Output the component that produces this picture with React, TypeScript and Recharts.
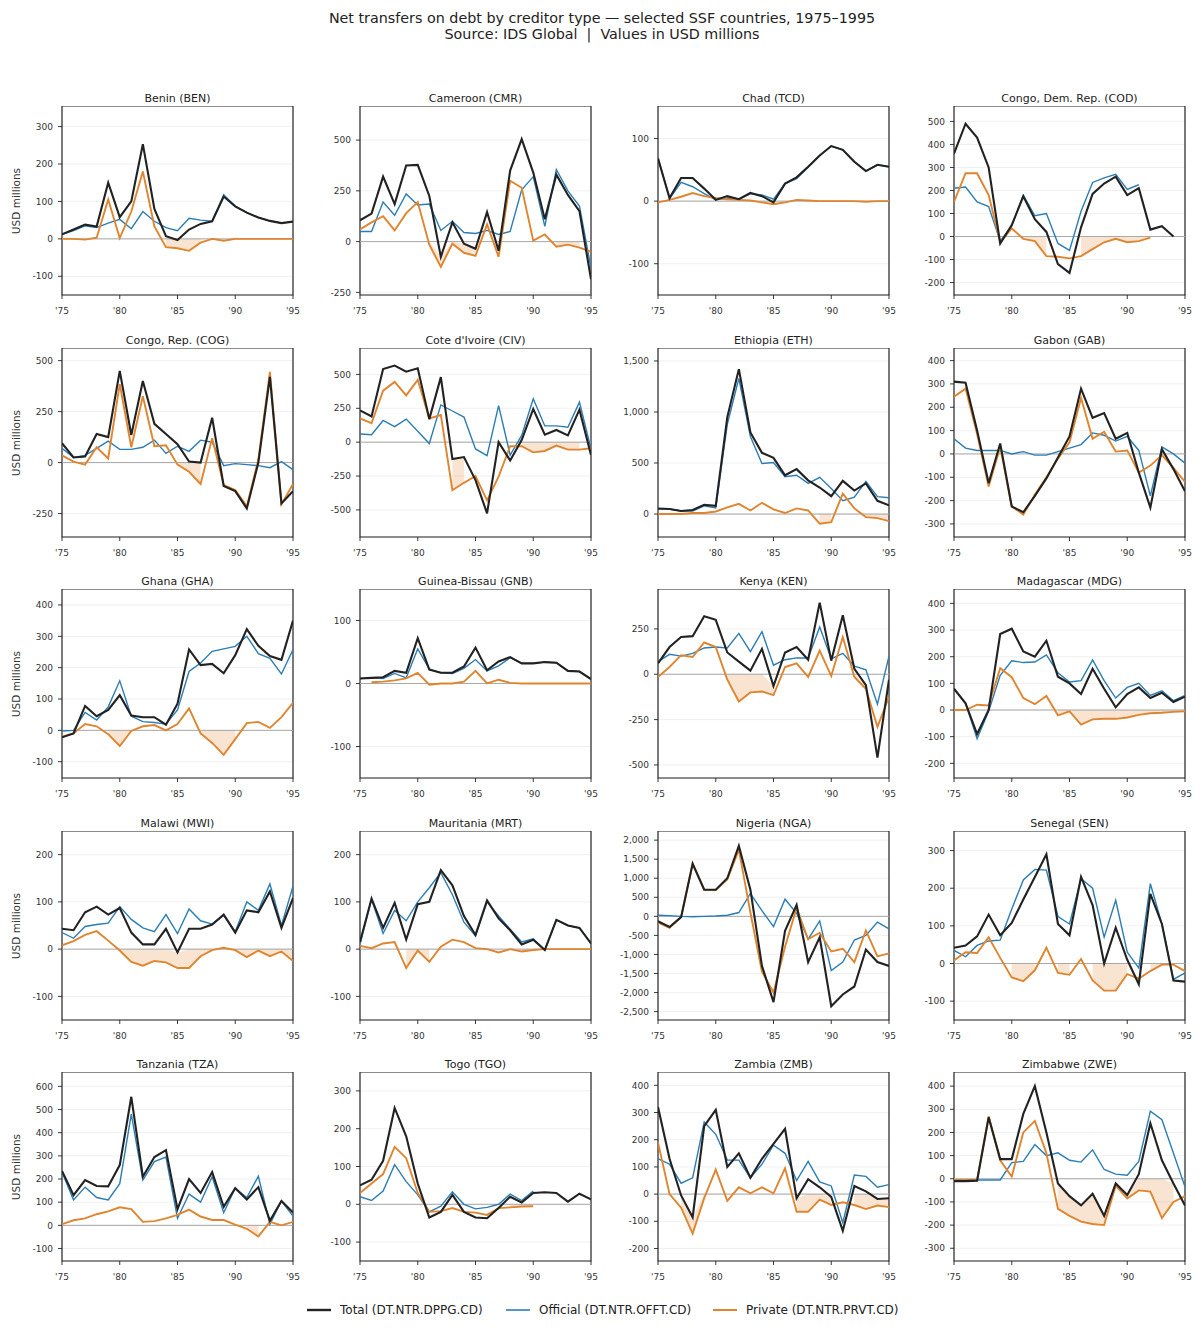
import React from 'react';
import { ComposedChart, Line, Area, XAxis, YAxis, CartesianGrid, ReferenceLine, ReferenceArea } from 'recharts';

const years = [1975, 1976, 1977, 1978, 1979, 1980, 1981, 1982, 1983, 1984, 1985, 1986, 1987, 1988, 1989, 1990, 1991, 1992, 1993, 1994, 1995];
const xTicks = [1975, 1980, 1985, 1990, 1995];

const BEN_total = [12, 25, 38, 33, 150, 58, 100, 253, 80, 7, -3, 25, 40, 47, 113, 87, 70, 57, 48, 42, 46];
const BEN_official = [12, 22, 35, 30, 42, 52, 27, 73, 47, 30, 22, 55, 50, 47, 118, 87, 70, 57, 48, 42, 46];
const BEN_private = [0, 0, -2, 3, 105, 2, 73, 180, 33, -22, -25, -32, -10, 0, -5, 0, 0, 0, 0, 0, 0];

const CMR_total = [105, 138, 320, 185, 375, 378, 225, -75, 95, -10, -35, 145, -45, 350, 505, 340, 110, 330, 230, 150, -185];
const CMR_official = [50, 50, 195, 130, 235, 180, 185, 55, 100, 45, 40, 55, 35, 50, 255, 320, 75, 355, 250, 175, -130];
const CMR_private = [60, 95, 125, 55, 140, 195, -15, -125, -10, -55, -70, 85, -75, 300, 265, 5, 35, -25, -15, -30, -50];

const TCD_total = [68, 5, 37, 37, 20, 2, 8, 3, 13, 8, -2, 28, 38, 55, 73, 88, 82, 63, 48, 58, 55];
const TCD_official = [70, 4, 30, 23, 12, 2, 5, 3, 12, 10, 3, 28, 36, 54, 73, 88, 82, 63, 48, 58, 55];
const TCD_private = [-2, 2, 7, 13, 8, 5, 3, 2, 1, -2, -5, -2, 2, 1, 0, 0, 0, 0, -1, 0, 0];

const COD_total = [360, 490, 430, 300, -30, 50, 175, 75, 20, -120, -158, 40, 185, 230, 260, 180, 210, 30, 45, 0, null];
const COD_official = [210, 215, 150, 130, -20, 45, 180, 90, 100, -30, -60, 110, 235, 255, 270, 205, 225, null, null, null, null];
const COD_private = [150, 275, 275, 180, -25, 35, -10, -20, -85, -88, -95, -85, -55, -25, -10, -25, -20, -5, null, null, null];

const COG_total = [95, 25, 30, 140, 125, 450, 135, 400, 190, 140, 90, 5, 0, 220, -115, -140, -225, 0, 420, -200, -140];
const COG_official = [70, 25, 35, 70, 105, 65, 65, 75, 110, 45, 80, 55, 110, 100, -15, -5, -10, -15, -25, 5, -35];
const COG_private = [35, 5, -10, 75, 20, 385, 75, 325, 80, 85, -10, -45, -105, 120, -110, -135, -215, 15, 445, -205, -105];

const CIV_total = [235, 190, 540, 565, 520, 545, 170, 480, -125, -110, -280, -525, 0, -135, 15, 245, 55, 90, 50, 240, -95];
const CIV_official = [60, 55, 160, 115, 170, 80, -10, 275, 230, 185, -50, -100, 270, -95, 50, 320, 120, 120, 110, 295, -50];
const CIV_private = [175, 140, 380, 445, 345, 460, 175, 200, -355, -300, -250, -430, -255, -30, -30, -75, -65, -25, -55, -55, -45];

const ETH_total = [55, 50, 30, 40, 90, 80, 950, 1420, 800, 600, 550, 380, 440, 330, 260, 175, 325, 230, 300, 130, 85];
const ETH_official = [50, 50, 30, 30, 80, 60, 880, 1330, 760, 495, 505, 365, 380, 300, 360, 250, 130, 165, 320, 170, 160];
const ETH_private = [0, 0, 0, 10, 10, 25, 65, 100, 35, 110, 45, 10, 55, 35, -95, -80, 200, 55, -30, -40, -70];

const GAB_total = [310, 305, 100, -125, 45, -225, -250, -180, -105, -15, 75, 280, 155, 175, 65, 90, -80, -230, 20, -65, -160];
const GAB_official = [65, 25, 15, 15, 15, 0, 10, -5, -5, 10, 25, 40, 90, 80, 55, 75, 15, -180, 30, 0, -40];
const GAB_private = [245, 280, 85, -140, 30, -225, -260, -175, -100, -20, 50, 240, 65, 95, 10, 15, -80, -50, -5, -60, -120];

const GHA_total = [-22, -10, 78, 45, 65, 112, 47, 42, 42, 18, 85, 258, 208, 212, 182, 240, 323, 270, 237, 225, 350];
const GHA_official = [-2, 0, 57, 33, 75, 158, 45, 28, 25, 20, 65, 188, 215, 252, 260, 268, 300, 245, 230, 180, 258];
const GHA_private = [-20, -10, 20, 13, -12, -50, -2, 13, 17, 0, 20, 70, -10, -40, -78, -28, 23, 27, 8, 42, 88];

const GNB_total = [8, 9, 10, 20, 17, 72, 22, 17, 17, 27, 57, 21, 35, 42, 32, 32, 34, 33, 20, 19, 7];
const GNB_official = [8, 9, 8, 16, 9, 55, 23, 17, 16, 24, 38, 20, 28, 41, 32, 32, 34, 33, 20, 19, 7];
const GNB_private = [null, 2, 3, 5, 8, 17, -2, 0, 0, 3, 20, 0, 6, 1, 0, 0, 0, 0, 0, 0, 0];

const KEN_total = [60, 150, 205, 210, 320, 300, 120, 70, 20, 140, -65, 120, 150, 80, 395, 75, 325, 30, -60, -460, -30];
const KEN_official = [70, 110, 100, 115, 145, 150, 145, 225, 125, 235, 50, 80, 90, 90, 260, 85, 115, 45, 25, -165, 100];
const KEN_private = [-15, 40, 105, 95, 175, 150, -30, -150, -100, -95, -115, 40, 60, -15, 130, -10, 205, -15, -80, -290, -125];

const MDG_total = [80, 25, -90, 0, 285, 305, 220, 200, 260, 125, 100, 60, 155, 80, 10, 60, 85, 45, 65, 30, 50];
const MDG_official = [80, 25, -108, -5, 130, 185, 178, 180, 207, 140, 105, 110, 188, 110, 45, 85, 100, 55, 72, 35, 55];
const MDG_private = [0, 0, 20, 17, 157, 123, 45, 22, 53, -20, -5, -55, -35, -33, -33, -28, -18, -12, -10, -7, -5];

const MWI_total = [43, 40, 78, 90, 73, 87, 35, 10, 10, 43, -7, 43, 43, 52, 73, 35, 82, 78, 122, 45, 108];
const MWI_official = [35, 23, 48, 52, 55, 90, 63, 45, 37, 73, 33, 85, 60, 53, 72, 37, 100, 82, 138, 50, 133];
const MWI_private = [8, 17, 30, 38, 18, -3, -27, -35, -25, -28, -40, -40, -15, -2, 3, -2, -17, -3, -15, -5, -25];

const MRT_total = [15, 107, 45, 98, 20, 95, 100, 167, 135, 70, 30, 103, 65, 40, 10, 20, -2, 62, 50, 45, 12];
const MRT_official = [10, 105, 33, 82, 60, 100, 130, 162, 115, 57, 28, 100, 70, 42, 15, 22, -2, 62, 50, 45, 12];
const MRT_private = [7, 2, 12, 15, -40, -3, -27, 5, 20, 15, 2, 0, -7, 0, -5, -2, 0, 0, 0, 0, 0];

const NGA_total = [-130, -280, -20, 1380, 700, 700, 1000, 1850, 700, -1300, -2250, -380, 300, -1200, -550, -2360, -2050, -1840, -870, -1200, -1300];
const NGA_official = [30, 20, 0, -10, 0, 10, 30, 100, 600, 150, -270, 450, 80, -600, -120, -1420, -1200, -620, -500, -150, -330];
const NGA_private = [-160, -300, -20, 1390, 700, 690, 970, 1750, 100, -1450, -2000, -800, 220, -600, -430, -920, -850, -1200, -370, -1050, -970];

const SEN_total = [42, 48, 72, 130, 75, 108, 170, 230, 290, 105, 75, 230, 155, 0, 95, 10, -55, 185, 105, -45, -48];
const SEN_official = [35, 18, 48, 60, 62, 145, 222, 250, 248, 125, 105, 225, 200, 70, 168, 30, -12, 212, 105, -42, -25];
const SEN_private = [8, 30, 28, 70, 15, -37, -47, -18, 42, -25, -30, 12, -45, -72, -72, -28, -40, -20, -3, -3, -20];

const TZA_total = [235, 130, 195, 170, 168, 260, 555, 210, 295, 325, 70, 200, 140, 230, 80, 160, 112, 165, 20, 105, 55];
const TZA_official = [230, 110, 165, 120, 110, 180, 480, 195, 275, 295, 30, 135, 100, 210, 55, 160, 120, 212, 5, 105, 40];
const TZA_private = [5, 22, 30, 48, 60, 78, 70, 15, 18, 30, 45, 68, 38, 23, 23, 3, -15, -48, 15, 0, 15];

const TGO_total = [50, 65, 115, 255, 180, 55, -35, -20, 25, -20, -35, -37, -10, 20, 5, 30, 32, 30, 7, 28, 13];
const TGO_official = [20, 10, 35, 105, 60, 25, -20, -5, 33, 0, -12, -8, 0, 27, 10, 35, null, null, null, null, null];
const TGO_private = [30, 55, 80, 152, 122, 30, -20, -18, -10, -20, -22, -28, -10, -8, -6, -5, null, null, null, null, null];

const ZMB_total = [320, 130, -5, -85, 250, 310, 100, 150, 60, 130, 185, 240, -15, 55, 25, -10, -135, 30, 10, -18, -15];
const ZMB_official = [130, 110, 40, 60, 265, 220, 125, 125, 60, 110, 180, 150, 50, 120, 45, 30, -105, 70, 65, 25, 35];
const ZMB_private = [190, 0, -50, -145, -15, 90, -25, 25, 3, 25, 3, 95, -65, -65, -20, -40, -30, -40, -55, -42, -48];

const ZWE_total = [-10, -10, -8, 265, 85, 85, 280, 400, 200, -20, -75, -115, -65, -160, -20, -70, 20, 240, 80, -20, -115];
const ZWE_official = [null, null, -5, -5, -5, 70, 75, 148, 100, 112, 80, 72, 125, 40, 20, 15, 75, 292, 255, 110, -35];
const ZWE_private = [-5, -5, -5, 270, 80, 10, 200, 250, 110, -130, -160, -185, -195, -200, -30, -85, -50, -55, -170, -100, -75];

const countryNames = [
  'Benin (BEN)', 'Cameroon (CMR)', 'Chad (TCD)', 'Congo, Dem. Rep. (COD)',
  'Congo, Rep. (COG)', "Cote d'Ivoire (CIV)", 'Ethiopia (ETH)', 'Gabon (GAB)',
  'Ghana (GHA)', 'Guinea-Bissau (GNB)', 'Kenya (KEN)', 'Madagascar (MDG)',
  'Malawi (MWI)', 'Mauritania (MRT)', 'Nigeria (NGA)', 'Senegal (SEN)',
  'Tanzania (TZA)', 'Togo (TGO)', 'Zambia (ZMB)', 'Zimbabwe (ZWE)',
];
const totals = [BEN_total, CMR_total, TCD_total, COD_total, COG_total, CIV_total, ETH_total, GAB_total, GHA_total, GNB_total, KEN_total, MDG_total, MWI_total, MRT_total, NGA_total, SEN_total, TZA_total, TGO_total, ZMB_total, ZWE_total];
const officials = [BEN_official, CMR_official, TCD_official, COD_official, COG_official, CIV_official, ETH_official, GAB_official, GHA_official, GNB_official, KEN_official, MDG_official, MWI_official, MRT_official, NGA_official, SEN_official, TZA_official, TGO_official, ZMB_official, ZWE_official];
const privates = [BEN_private, CMR_private, TCD_private, COD_private, COG_private, CIV_private, ETH_private, GAB_private, GHA_private, GNB_private, KEN_private, MDG_private, MWI_private, MRT_private, NGA_private, SEN_private, TZA_private, TGO_private, ZMB_private, ZWE_private];

const yDomains = [
  [-150, 355], [-263, 668], [-150, 152], [-254, 567],
  [-365, 562], [-700, 695], [-225, 1627], [-356, 454],
  [-152, 451], [-150, 150], [-572, 470], [-255, 454],
  [-150, 250], [-150, 250], [-2720, 2240], [-150, 352],
  [-154, 662], [-150, 350], [-246, 449], [-355, 461],
];
const yTicks = [
  [-100, 0, 100, 200, 300], [-250, 0, 250, 500], [-100, 0, 100], [-200, -100, 0, 100, 200, 300, 400, 500],
  [-250, 0, 250, 500], [-500, -250, 0, 250, 500], [0, 500, 1000, 1500], [-300, -200, -100, 0, 100, 200, 300, 400],
  [-100, 0, 100, 200, 300, 400], [-100, 0, 100], [-500, -250, 0, 250], [-200, -100, 0, 100, 200, 300, 400],
  [-100, 0, 100, 200], [-100, 0, 100, 200], [-2500, -2000, -1500, -1000, -500, 0, 500, 1000, 1500, 2000], [-100, 0, 100, 200, 300],
  [-100, 0, 100, 200, 300, 400, 500, 600], [-100, 0, 100, 200, 300], [-200, -100, 0, 100, 200, 300, 400], [-300, -200, -100, 0, 100, 200, 300, 400],
];

const C_TOTAL = '#222222';
const C_OFF = '#2b7db5';
const C_PRV = '#e0852f';
const FONT = '"DejaVu Sans", Verdana, sans-serif';

const colLeft = [62, 360, 658, 954];
const rowTop = [106, 348, 589, 831, 1072];
const PLOT_W = 231;
const PLOT_H = 189;
const YAXIS_W = 56;
const XAXIS_H = 28;
const RIGHT_PAD = 14;

function buildRows(i: number) {
  return years.map((y, k) => {
    const t = totals[i][k];
    const o = officials[i][k];
    const p = privates[i][k];
    const upper = t == null ? 0 : Math.min(t, 0);
    const band = p != null && p < upper ? [p, upper] : null;
    return { year: y, total: t, official: o, private: p, band };
  });
}

const fmtNum = (v: number) => v.toLocaleString('en-US');
const fmtYear = (v: number) => "'" + String(v).slice(2);

function Panel({ i }: { i: number }) {
  const col = i % 4;
  const row = Math.floor(i / 4);
  const left = colLeft[col];
  const top = rowTop[row];
  const data = buildRows(i);
  const dom = yDomains[i];
  return (
    <>
      <div
        style={{
          position: 'absolute', left, top: top - 14, width: PLOT_W, textAlign: 'center',
          fontSize: 11, lineHeight: '14px', color: '#222', whiteSpace: 'nowrap',
        }}
      >
        {countryNames[i]}
      </div>
      {col === 0 && (
        <div
          style={{
            position: 'absolute', left: 16 - 60, top: top + PLOT_H / 2 - 7, width: 120, height: 14,
            textAlign: 'center', fontSize: 10.5, lineHeight: '14px', color: '#333',
            transform: 'rotate(-90deg)', whiteSpace: 'nowrap',
          }}
        >
          USD millions
        </div>
      )}
      <div style={{ position: 'absolute', left: left - YAXIS_W, top }}>
        <ComposedChart
          width={YAXIS_W + PLOT_W + RIGHT_PAD}
          height={PLOT_H + XAXIS_H}
          data={data}
          margin={{ top: 0, right: RIGHT_PAD, bottom: 0, left: 0 }}
        >
          <CartesianGrid vertical={false} stroke="#ececec" strokeWidth={0.8} />
          <XAxis
            dataKey="year" type="number" domain={[1975, 1995]} ticks={xTicks}
            tickFormatter={fmtYear} height={XAXIS_H} axisLine={false}
            tickSize={4} tickMargin={9} tickLine={{ stroke: '#222', strokeWidth: 0.9 }}
            tick={{ fontSize: 9, fill: '#333' }} allowDataOverflow interval={0}
          />
          <YAxis
            type="number" domain={dom} ticks={yTicks[i]} tickFormatter={fmtNum}
            width={YAXIS_W} axisLine={false} tickSize={4} tickMargin={5}
            tickLine={{ stroke: '#222', strokeWidth: 0.9 }}
            tick={{ fontSize: 9, fill: '#333' }} allowDataOverflow interval={0}
          />
          <ReferenceLine y={0} stroke="#a8a8a8" strokeWidth={1} />
          <Area
            dataKey="band" stroke="none" fill={C_PRV} fillOpacity={0.22}
            isAnimationActive={false} connectNulls={false} dot={false} activeDot={false}
          />
          <Line dataKey="official" stroke={C_OFF} strokeWidth={1.4} dot={false} activeDot={false} isAnimationActive={false} />
          <Line dataKey="private" stroke={C_PRV} strokeWidth={1.9} dot={false} activeDot={false} isAnimationActive={false} />
          <Line dataKey="total" stroke={C_TOTAL} strokeWidth={2.1} dot={false} activeDot={false} isAnimationActive={false} />
          <ReferenceArea
            x1={1975} x2={1995} y1={dom[0]} y2={dom[1]} fill="none" fillOpacity={0}
            stroke="#222" strokeWidth={1.2} ifOverflow="visible"
          />
        </ComposedChart>
      </div>
    </>
  );
}

const legendItems = [
  { label: 'Total (DT.NTR.DPPG.CD)', color: C_TOTAL, w: 2.4, x: 307 },
  { label: 'Official (DT.NTR.OFFT.CD)', color: C_OFF, w: 1.6, x: 506 },
  { label: 'Private (DT.NTR.PRVT.CD)', color: C_PRV, w: 2.0, x: 713 },
];

export default function App() {
  return (
    <div
      style={{
        position: 'absolute', left: 0, top: 0, width: 1204, height: 1334,
        background: '#fff', fontFamily: FONT, overflow: 'hidden',
      }}
    >
      <div
        style={{
          position: 'absolute', left: 0, top: 10, width: 1204, textAlign: 'center',
          fontSize: 14.3, lineHeight: '16px', color: '#222',
        }}
      >
        <div>Net transfers on debt by creditor type — selected SSF countries, 1975–1995</div>
        <div style={{ whiteSpace: 'pre' }}>Source: IDS Global  |  Values in USD millions</div>
      </div>
      {countryNames.map((_, i) => (
        <Panel key={i} i={i} />
      ))}
      {legendItems.map((it) => (
        <div
          key={it.label}
          style={{ position: 'absolute', left: it.x, top: 1302, height: 16, display: 'flex', alignItems: 'center', whiteSpace: 'nowrap' }}
        >
          <svg width={24} height={16} style={{ display: 'block' }}>
            <line x1={0} y1={8} x2={24} y2={8} stroke={it.color} strokeWidth={it.w} />
          </svg>
          <span style={{ marginLeft: 9, fontSize: 12, color: '#222', lineHeight: '16px' }}>{it.label}</span>
        </div>
      ))}
    </div>
  );
}
